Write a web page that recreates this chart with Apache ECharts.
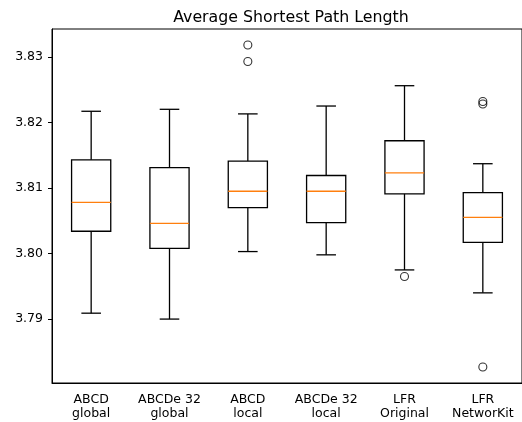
<!DOCTYPE html>
<html>
<head>
<meta charset="utf-8">
<script src="https://cdn.jsdelivr.net/npm/echarts@6/dist/echarts.min.js"></script>
<style>
  html, body { margin: 0; padding: 0; background: #fff; }
  #chart { width: 522px; height: 422px; }
</style>
</head>
<body>
<div id="chart"></div>
<script>
// Box-plot summary per generator: whiskers, quartiles, median
const categories = ['ABCD\nglobal', 'ABCDe 32\nglobal', 'ABCD\nlocal', 'ABCDe 32\nlocal', 'LFR\nOriginal', 'LFR\nNetworKit'];
const whiskerLow  = [3.7909, 3.7900, 3.8003, 3.7998, 3.7975, 3.7940];
const quartile1   = [3.8034, 3.8008, 3.8070, 3.8047, 3.8091, 3.8017];
const medians     = [3.8078, 3.8046, 3.8095, 3.8095, 3.8123, 3.8055];
const quartile3   = [3.8143, 3.8131, 3.8141, 3.8119, 3.8172, 3.8093];
const whiskerHigh = [3.8217, 3.8220, 3.8213, 3.8225, 3.8256, 3.8137];
// Fliers: [category index, value]
const outliers = [[2, 3.8318], [2, 3.8293], [4, 3.7965], [5, 3.8232], [5, 3.8228], [5, 3.7827]];
const yTicks = [3.79, 3.80, 3.81, 3.82, 3.83];

const boxData = categories.map((c, i) => [i, whiskerLow[i], quartile1[i], medians[i], quartile3[i], whiskerHigh[i]]);

const chart = echarts.init(document.getElementById('chart'), null, { renderer: 'canvas' });
const font = 'DejaVu Sans';

function renderBox(params, api) {
  const x = api.value(0);
  const band = api.size([1, 0])[0];
  const half = band * 0.25;
  const cap = half * 0.5;
  const pLow = api.coord([x, api.value(1)]);
  const pQ1 = api.coord([x, api.value(2)]);
  const pMed = api.coord([x, api.value(3)]);
  const pQ3 = api.coord([x, api.value(4)]);
  const pHigh = api.coord([x, api.value(5)]);
  const cx = pMed[0];
  const stroke = { stroke: '#000', lineWidth: 1.3, fill: null };
  return {
    type: 'group',
    children: [
      { type: 'line', shape: { x1: cx, y1: pQ1[1], x2: cx, y2: pLow[1] }, style: stroke },
      { type: 'line', shape: { x1: cx, y1: pQ3[1], x2: cx, y2: pHigh[1] }, style: stroke },
      { type: 'line', shape: { x1: cx - cap, y1: pLow[1], x2: cx + cap, y2: pLow[1] }, style: stroke },
      { type: 'line', shape: { x1: cx - cap, y1: pHigh[1], x2: cx + cap, y2: pHigh[1] }, style: stroke },
      { type: 'rect', shape: { x: cx - half, y: pQ3[1], width: half * 2, height: pQ1[1] - pQ3[1] }, style: stroke },
      { type: 'line', shape: { x1: cx - half, y1: pMed[1], x2: cx + half, y2: pMed[1] }, style: { stroke: '#ff7f0e', lineWidth: 1.3 } }
    ]
  };
}

chart.setOption({
  animation: false,
  backgroundColor: '#fff',
  title: {
    text: 'Average Shortest Path Length',
    left: 286, top: 5, textAlign: 'center',
    textStyle: { fontFamily: font, fontSize: 15.8, fontWeight: 'normal', color: '#000' }
  },
  grid: {
    left: 52, right: -6, top: 29, bottom: 39,
    show: true, borderColor: '#000', borderWidth: 1, backgroundColor: 'transparent'
  },
  xAxis: {
    type: 'category',
    data: categories,
    boundaryGap: true,
    axisLine: { lineStyle: { color: '#000', width: 1 } },
    axisTick: { alignWithLabel: true, length: 4, lineStyle: { color: '#000' } },
    axisLabel: { fontFamily: font, fontSize: 12.5, color: '#000', margin: 9, lineHeight: 14.5, interval: 0 },
    splitLine: { show: false }
  },
  yAxis: {
    type: 'value',
    min: 3.78025, max: 3.83425,
    axisLine: { show: true, lineStyle: { color: '#000', width: 1 } },
    axisTick: { show: true, length: 4, lineStyle: { color: '#000' }, customValues: yTicks },
    axisLabel: {
      fontFamily: font, fontSize: 12.5, color: '#000', margin: 9,
      customValues: yTicks,
      formatter: v => v.toFixed(2)
    },
    splitLine: { show: false }
  },
  series: [
    {
      type: 'custom',
      renderItem: renderBox,
      encode: { x: 0, y: [1, 2, 3, 4, 5] },
      data: boxData,
      z: 2
    },
    {
      type: 'scatter',
      data: outliers,
      symbol: 'circle',
      symbolSize: 8,
      itemStyle: { color: 'rgba(0,0,0,0)', borderColor: '#000', borderWidth: 1.1 },
      z: 3
    }
  ]
});
</script>
</body>
</html>
